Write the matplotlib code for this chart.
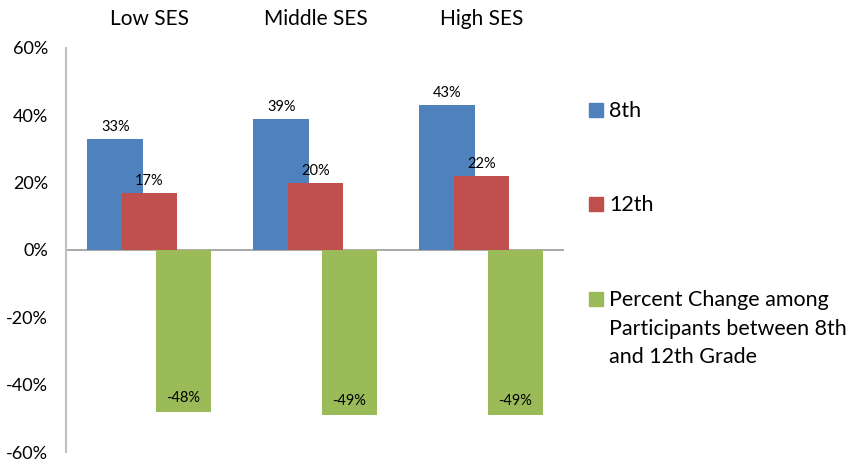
import matplotlib
matplotlib.use("Agg")
import matplotlib.pyplot as plt
from matplotlib.patches import Rectangle
import numpy as np

plt.rcParams['font.family'] = ['Lato', 'DejaVu Sans']

groups = ['Low SES', 'Middle SES', 'High SES']
grade_8 = [33, 39, 43]
grade_12 = [17, 20, 22]
pct_change = [-48, -49, -49]
series_names = ['8th', '12th', 'Percent Change among\nParticipants between 8th\nand 12th Grade']
colors = ['#4F81BD', '#C0504D', '#9BBB59']
yticks = [-60, -40, -20, 0, 20, 40, 60]

fig = plt.figure(figsize=(8.55, 4.65), dpi=100)
ax = fig.add_axes([66/855, 1 - 452/465, (564 - 66)/855, (452 - 48)/465])

x = np.arange(len(groups))
width = 0.337
offset = 0.205
all_series = [grade_8, grade_12, pct_change]
for k, (vals, col) in enumerate(zip(all_series, colors)):
    pos = x + (k - 1) * offset
    bars = ax.bar(pos, vals, width=width, color=col, zorder=2 + k)
    for b, v in zip(bars, vals):
        cx = b.get_x() + b.get_width() / 2
        if v >= 0:
            ax.text(cx, v + 1.5, f'{v}%', ha='center', va='bottom', fontsize=10.5, zorder=10)
        else:
            ax.text(cx, v + 2, f'{v}%', ha='center', va='bottom', fontsize=10.5, zorder=10)

# group labels above the plot
for i, g in enumerate(groups):
    ax.text(x[i], 1.072, g, transform=ax.get_xaxis_transform(),
            ha='center', va='center', fontsize=15)

ax.set_xlim(-0.503, 2.497)
ax.set_ylim(-60, 60)
ax.set_yticks(yticks)
ax.set_yticklabels([f'{t}%' for t in yticks], fontsize=13)
ax.tick_params(axis='y', length=0, pad=13)
ax.set_xticks([])
ax.axhline(0, color='#9A9A9A', linewidth=1.2, zorder=1)
for s in ['top', 'right', 'bottom']:
    ax.spines[s].set_visible(False)
ax.spines['left'].set_color('#BFBFBF')
ax.spines['left'].set_linewidth(1.5)

# legend (drawn by hand, each line on its own baseline)
leg_bottom = [117, 211, 306]
line_step = 28.5
for name, col, yb in zip(series_names, colors, leg_bottom):
    fig.patches.append(Rectangle((589/855, 1 - yb/465), 14/855, 14/465,
                                 transform=fig.transFigure, color=col))
    for j, line in enumerate(name.split('\n')):
        fig.text(609/855, 1 - (yb + j * line_step)/465, line, ha='left',
                 va='baseline', fontsize=15.5)

fig.savefig('out.png', dpi=100)
